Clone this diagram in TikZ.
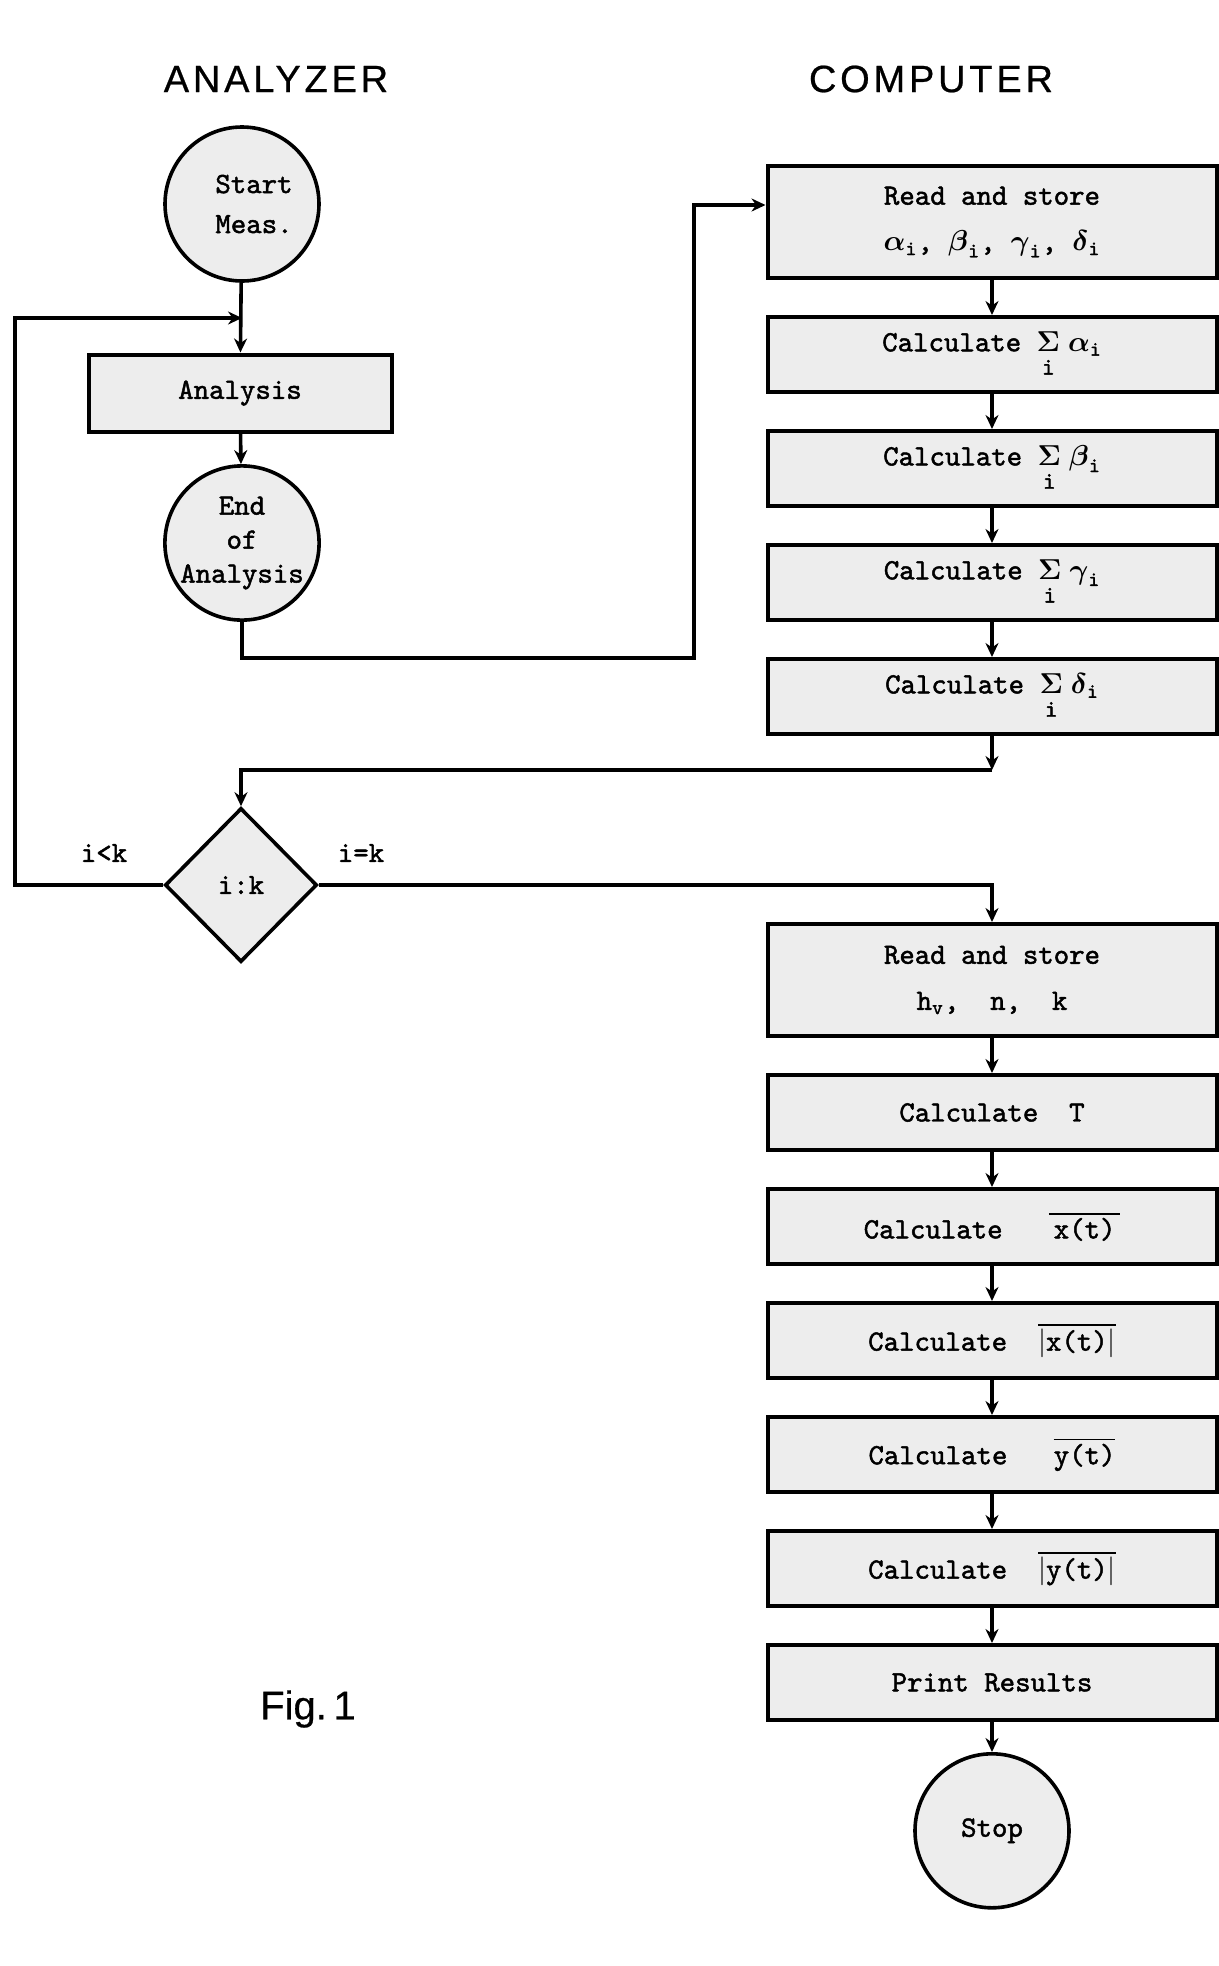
\documentclass[tikz,border=0pt]{standalone}
\usepackage{amsmath}
\usepackage{fontspec}
\newfontfamily\typew[FakeBold=1.6]{lmmono10-regular.otf}
\newfontfamily\headfont[LetterSpace=10,FakeBold=0.6]{Liberation Sans}
\newfontfamily\capfont[FakeBold=0.6]{Liberation Sans}
\definecolor{boxgray}{RGB}{237,237,237}
\newcommand{\sumi}{\underset{\raisebox{-3pt}{\typew\fontsize{12}{12}\selectfont i}}{\boldsymbol{\Sigma}}\;}
\usetikzlibrary{arrows.meta,positioning,shapes.geometric,calc}

\begin{document}
\begin{tikzpicture}[
  x=0.5pt, y=-0.5pt,
  node distance=17.5pt,
  font=\typew\fontsize{14.7}{20}\selectfont,
  stage/.style={
    draw,
    line width=2pt,
    minimum width=224.5pt,
    minimum height=37.5pt,
    inner sep=2pt,
    align=center,
    fill=boxgray
  },
  tallstage/.style={stage,minimum height=56pt,font=\typew\fontsize{14.7}{23}\selectfont},
  term/.style={circle,draw,line width=1.8pt,fill=boxgray,minimum size=77pt,inner sep=0pt,align=center},
  test/.style={diamond,draw,line width=1.8pt,fill=boxgray,minimum width=76pt,minimum height=77pt,inner sep=0pt,aspect=1},
  head/.style={font=\headfont\fontsize{19}{22}\selectfont},
  tag/.style={inner sep=0pt},
  arrow/.style={-{Stealth[length=7pt,width=6.5pt]},line width=1.8pt}
]
\useasboundingbox (0,0) rectangle (1219,1966);

% column titles
\node[head] (anhead) at (276,79) {ANALYZER};
\node[head] (cphead) at (931,79) {COMPUTER};

% analyzer side
\node[term] (start) at (242,204) {\hspace*{12pt}Start\\\hspace*{12pt}Meas.};
\node[stage,minimum width=151.5pt,minimum height=38.5pt] (ana) at (240,393) {Analysis};
\node[term,font=\typew\fontsize{14.7}{17}\selectfont] (endana) at (242,543) {End\\of\\Analysis};
\node[test] (dec) at (241,885) {i:k};
\node[tag] (less) at (104,853) {i<k};
\node[tag] (equal) at (361,853) {i=k};

% computer side, first pass
\node[tallstage] (rd1) at (992,222) {Read and store\\$\boldsymbol{\alpha}_{\text{i}}$, $\boldsymbol{\beta}_{\text{i}}$, $\boldsymbol{\gamma}_{\text{i}}$, $\boldsymbol{\delta}_{\text{i}}$};
\node[stage,below=of rd1] (sa) {Calculate~$\sumi\boldsymbol{\alpha}_{\text{i}}$};
\node[stage,below=of sa] (sb) {Calculate~$\sumi\boldsymbol{\beta}_{\text{i}}$};
\node[stage,below=of sb] (sc) {Calculate~$\sumi\boldsymbol{\gamma}_{\text{i}}$};
\node[stage,below=of sc] (sd) {Calculate~$\sumi\boldsymbol{\delta}_{\text{i}}$};

% computer side, results
\node[tallstage] (rd2) at (992,980) {Read and store\\h$_{\text{v}}$,~~n,~~k};
\node[stage,below=of rd2] (ct) {Calculate~~T};
\node[stage,below=of ct] (cx) {Calculate~~~$\overline{\,\text{x(t)}\,}$};
\node[stage,below=of cx] (cax) {Calculate~~$\overline{|\text{x(t)}|}$};
\node[stage,below=of cax] (cy) {Calculate~~~$\overline{\text{y(t)}}$};
\node[stage,below=of cy] (cay) {Calculate~~$\overline{|\text{y(t)}|}$};
\node[stage,below=of cay] (prt) {Print Results};
\node[term,below=15pt of prt] (stop) {Stop};

\node[font=\capfont\fontsize{20}{24}\selectfont] (fig) at (308,1709) {Fig.\,1};

% bends
\coordinate (loopin) at (242,318);
\coordinate (loopout) at (15,885);
\coordinate (turn) at (694,658);
\coordinate (entry) at (694,205);
\coordinate (merge) at (992,770);

\draw[arrow] (start) -- (ana);
\draw[arrow] (dec.west) -- (loopout) |- (loopin);
\draw[arrow] (ana) -- (endana);
\draw[arrow] (endana.south) |- (turn) -- (entry) -- (entry -| rd1.west);
\foreach \a/\b in {rd1/sa,sa/sb,sb/sc,sc/sd,rd2/ct,ct/cx,cx/cax,cax/cy,cy/cay,cay/prt,prt/stop}
  \draw[arrow] (\a) -- (\b);
\draw[arrow] (sd) -- (merge);
\draw[arrow] (merge) -| (dec);
\draw[arrow] (dec.east) -| (rd2);
\end{tikzpicture}
\end{document}
